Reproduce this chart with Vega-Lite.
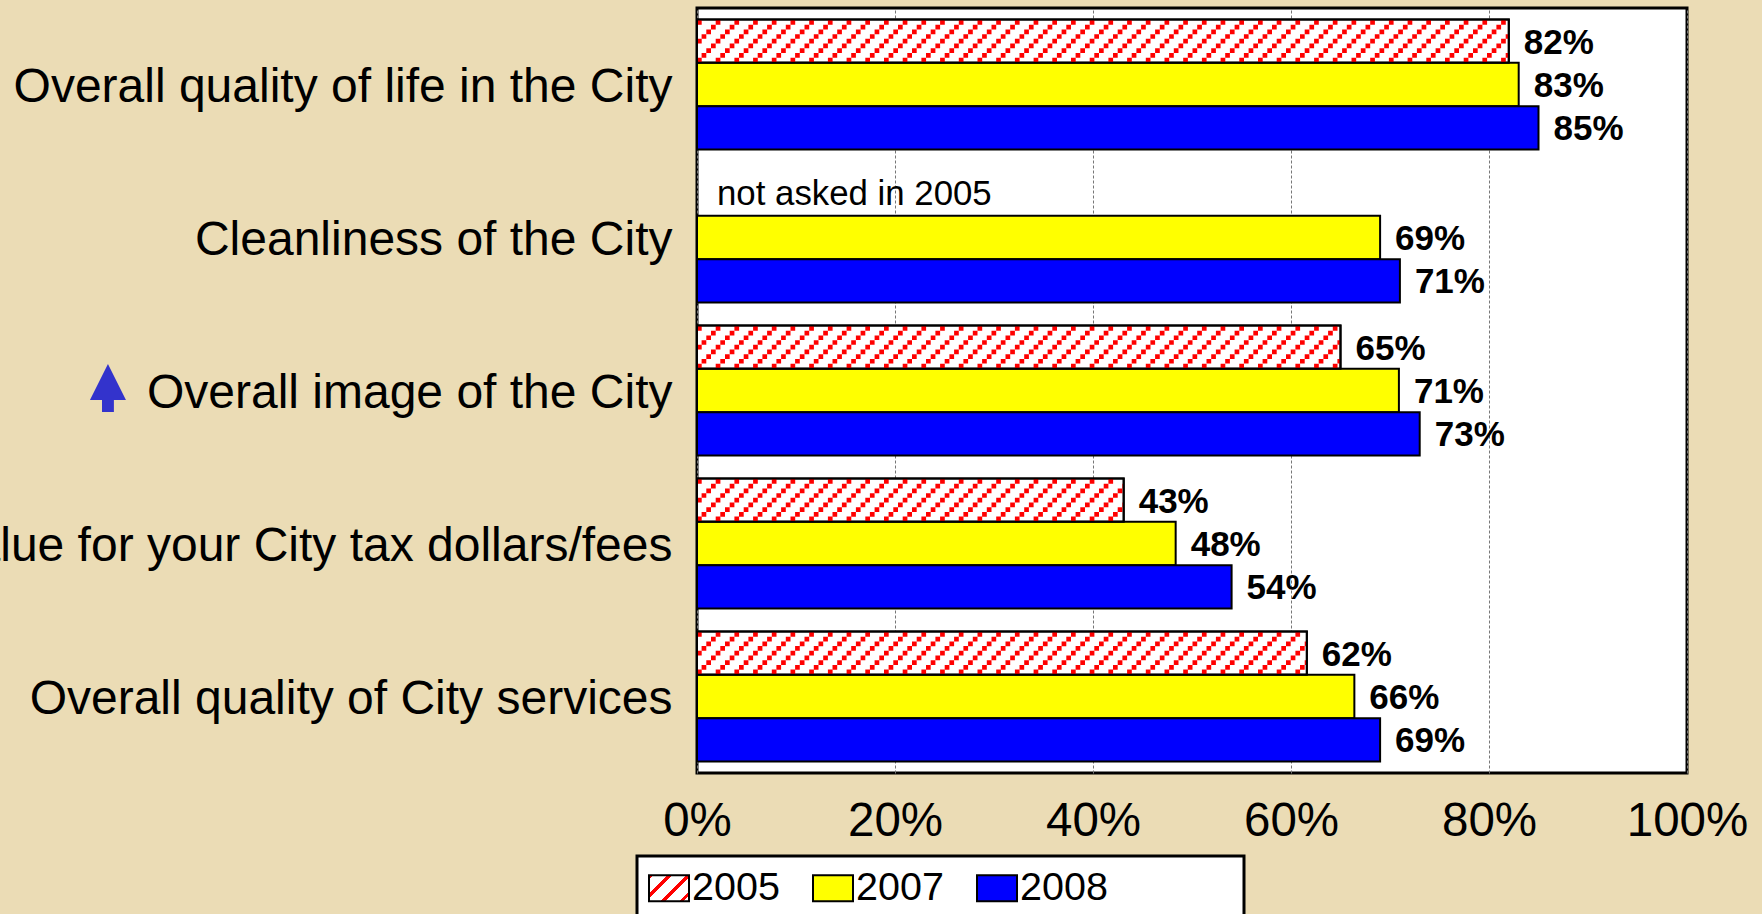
{
"$schema":"https://vega.github.io/schema/vega-lite/v6.json",
"width":990,"height":765,
"autosize":{"type":"none"},
"padding":{"left":697,"top":8,"right":75,"bottom":141},
"background":"#EBDCB5",
"config":{"font":"Liberation Sans","view":{"fill":"white","stroke":"black","strokeWidth":3},"legend":{"strokeWidth":3}},
"data":{"values":[
{"category":"Overall quality of life in the City","year":"2005","base":0,"value":0.82},
{"category":"Overall quality of life in the City","year":"2007","base":0,"value":0.83},
{"category":"Overall quality of life in the City","year":"2008","base":0,"value":0.85},
{"category":"Cleanliness of the City","year":"2005","base":0,"note":"not asked in 2005"},
{"category":"Cleanliness of the City","year":"2007","base":0,"value":0.69},
{"category":"Cleanliness of the City","year":"2008","base":0,"value":0.71},
{"category":"Overall image of the City","year":"2005","base":0,"value":0.65},
{"category":"Overall image of the City","year":"2007","base":0,"value":0.709},
{"category":"Overall image of the City","year":"2008","base":0,"value":0.73},
{"category":"Value for your City tax dollars/fees","year":"2005","base":0,"value":0.431},
{"category":"Value for your City tax dollars/fees","year":"2007","base":0,"value":0.4835},
{"category":"Value for your City tax dollars/fees","year":"2008","base":0,"value":0.54},
{"category":"Overall quality of City services","year":"2005","base":0,"value":0.616},
{"category":"Overall quality of City services","year":"2007","base":0,"value":0.664},
{"category":"Overall quality of City services","year":"2008","base":0,"value":0.69},
{"category":"Overall image of the City","marker":-0.595}
]},
"encoding":{"y":{"field":"category","type":"nominal","sort":["Overall quality of life in the City","Cleanliness of the City","Overall image of the City","Value for your City tax dollars/fees","Overall quality of City services"],"scale":{"paddingInner":0.15,"paddingOuter":0.075},"axis":{"title":null,"domain":false,"ticks":false,"labelFontSize":48,"labelColor":"black","labelLimit":2000,"labelPadding":25,"labelOffset":3}}},
"layer":[
{"transform":[{"filter":"isValid(datum.value)"}],
"mark":{"type":"bar","stroke":"black","strokeWidth":2},
"encoding":{
"x":{"field":"value","type":"quantitative","scale":{"domain":[0,1],"nice":false},"axis":{"title":null,"format":".0%","values":[0,0.2,0.4,0.6,0.8,1],"domain":false,"ticks":false,"labelFontSize":47.5,"labelColor":"black","labelPadding":24,"labelFlush":false,"grid":true,"gridColor":"#777777","gridDash":[3,2],"gridWidth":1}},
"yOffset":{"field":"year","type":"nominal","scale":{"domain":["2005","2007","2008"]}},
"color":{"field":"year","type":"nominal","scale":{"domain":["2008","2007","2005"],"range":["#0000ff","#ffff00","#ffffff"]},"legend":null}
}},
{"transform":[{"filter":"isValid(datum.value)"}],
"mark":{"type":"point","filled":true,"opacity":0},
"encoding":{"x":{"field":"value","type":"quantitative"},"yOffset":{"field":"year","type":"nominal"},
"shape":{"field":"year","type":"nominal","scale":{"domain":["2005","2007","2008"],"range":["M-1,-0.65H1V0.65H-1Z","M-1,-0.65H1V0.65H-1Z","M-1,-0.65H1V0.65H-1Z"]},
"legend":{"orient":"none","legendX":-60,"legendY":848,"direction":"horizontal","columns":3,"title":"\u00a0","titleOrient":"right","titlePadding":125,"titleFontSize":10,"fillColor":"white","strokeColor":"black","padding":11,"symbolSize":1600,"labelFontSize":39.5,"labelColor":"black","labelOffset":2,"columnPadding":29,
"encoding":{"symbols":{"opacity":{"value":1},"stroke":{"value":"black"},"strokeWidth":{"value":2},"fill":{"condition":[{"test":"datum.value==='2005'","value":{"gradient":"linear","x1":0,"y1":0,"x2":1.16,"y2":0.754,"stops":[{"offset":0,"color":"#ff0000"},{"offset":0.07,"color":"#ff0000"},{"offset":0.07,"color":"#ffffff"},{"offset":0.283,"color":"#ffffff"},{"offset":0.283,"color":"#ff0000"},{"offset":0.354,"color":"#ff0000"},{"offset":0.354,"color":"#ffffff"},{"offset":0.566,"color":"#ffffff"},{"offset":0.566,"color":"#ff0000"},{"offset":0.637,"color":"#ff0000"},{"offset":0.637,"color":"#ffffff"},{"offset":0.849,"color":"#ffffff"},{"offset":0.849,"color":"#ff0000"},{"offset":0.92,"color":"#ff0000"},{"offset":0.92,"color":"#ffffff"},{"offset":1,"color":"#ffffff"}]}},{"test":"datum.value==='2007'","value":"#ffff00"}],"value":"#0000ff"}}}}}
}},
{"transform":[{"filter":"datum.year==='2005' && isValid(datum.value)"}],
"encoding":{"x":{"field":"base","type":"quantitative"},"x2":{"field":"value"}},
"layer":[
{"mark":{"type":"rule","color":"#ff0000","strokeWidth":4.7,"strokeDash":[4.7,14],"strokeDashOffset":0},"encoding":{"yOffset":{"value":2.9}}},
{"mark":{"type":"rule","color":"#ff0000","strokeWidth":4.7,"strokeDash":[4.7,14],"strokeDashOffset":4.7},"encoding":{"yOffset":{"value":7.6}}},
{"mark":{"type":"rule","color":"#ff0000","strokeWidth":4.7,"strokeDash":[4.7,14],"strokeDashOffset":9.4},"encoding":{"yOffset":{"value":12.3}}},
{"mark":{"type":"rule","color":"#ff0000","strokeWidth":4.7,"strokeDash":[4.7,14],"strokeDashOffset":14.1},"encoding":{"yOffset":{"value":17}}},
{"mark":{"type":"rule","color":"#ff0000","strokeWidth":4.7,"strokeDash":[4.7,14],"strokeDashOffset":0},"encoding":{"yOffset":{"value":21.7}}},
{"mark":{"type":"rule","color":"#ff0000","strokeWidth":4.7,"strokeDash":[4.7,14],"strokeDashOffset":4.7},"encoding":{"yOffset":{"value":26.4}}},
{"mark":{"type":"rule","color":"#ff0000","strokeWidth":4.7,"strokeDash":[4.7,14],"strokeDashOffset":9.4},"encoding":{"yOffset":{"value":31.1}}},
{"mark":{"type":"rule","color":"#ff0000","strokeWidth":4.7,"strokeDash":[4.7,14],"strokeDashOffset":14.1},"encoding":{"yOffset":{"value":35.8}}},
{"mark":{"type":"rule","color":"#ff0000","strokeWidth":4.7,"strokeDash":[4.7,14],"strokeDashOffset":0},"encoding":{"yOffset":{"value":40.5}}}
]},
{"transform":[{"filter":"datum.year==='2005' && isValid(datum.value)"}],
"mark":{"type":"bar","fillOpacity":0,"stroke":"black","strokeWidth":2},
"encoding":{"x":{"field":"value","type":"quantitative"},"yOffset":{"field":"year","type":"nominal"}}},
{"transform":[{"filter":"isValid(datum.value)"}],
"mark":{"type":"text","align":"left","baseline":"middle","dx":15,"dy":1.5,"fontWeight":"bold","fontSize":35,"color":"black"},
"encoding":{"x":{"field":"value","type":"quantitative"},"yOffset":{"field":"year","type":"nominal"},"text":{"field":"value","format":".0%"}}},
{"transform":[{"filter":"isValid(datum.note)"}],
"mark":{"type":"text","align":"left","baseline":"middle","dx":20,"dy":1,"fontSize":34.8,"color":"black"},
"encoding":{"x":{"field":"base","type":"quantitative"},"yOffset":{"field":"year","type":"nominal"},"text":{"field":"note"}}},
{"transform":[{"filter":"isValid(datum.marker)"}],
"mark":{"type":"point","filled":true,"opacity":1,"color":"#3333CC","shape":"M0,-1.47L1,0.53L0.33,0.53L0.33,1.19L-0.33,1.19L-0.33,0.53L-1,0.53Z","size":1296},
"encoding":{"x":{"field":"marker","type":"quantitative"}}}
]
}
